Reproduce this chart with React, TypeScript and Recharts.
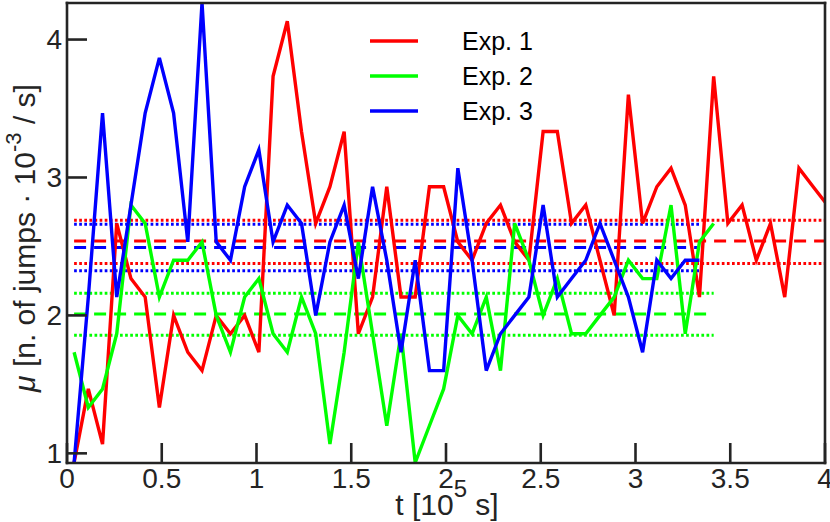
import React from "react";
import { LineChart, Line, XAxis, YAxis, Legend } from "recharts";

// one bin = 7500 s = 0.075 x 10^5 s, points sit in the middle of each bin
const BIN = 0.075;

const exp1 = [
  0.933, 1.467, 1.067, 2.667, 2.267, 2.133, 1.333, 2.0, 1.733, 1.6,
  2.0, 1.867, 2.0, 1.733, 3.733, 4.133, 3.333, 2.667, 2.933, 3.333,
  1.867, 2.133, 2.933, 2.133, 2.133, 2.933, 2.933, 2.533, 2.4, 2.667,
  2.8, 2.533, 2.4, 3.333, 3.333, 2.667, 2.8, 2.4, 2.0, 3.6,
  2.667, 2.933, 3.067, 2.8, 2.133, 3.733, 2.667, 2.8, 2.4, 2.667,
  2.133, 3.067, 2.933, 2.8,
];

const exp2 = [
  1.733, 1.333, 1.467, 1.867, 2.8, 2.667, 2.133, 2.4, 2.4, 2.533,
  2.0, 1.733, 2.133, 2.267, 1.867, 1.733, 2.133, 1.867, 1.067, 1.733,
  2.533, 1.867, 1.2, 1.867, 0.933, 1.2, 1.467, 2.0, 1.867, 2.133,
  1.6, 2.667, 2.4, 2.0, 2.267, 1.867, 1.867, 2.0, 2.133, 2.4,
  2.267, 2.267, 2.8, 1.867, 2.533, 2.667,
];

const exp3 = [
  0.933, 2.133, 3.467, 2.133, 2.8, 3.467, 3.867, 3.467, 2.533, 4.267,
  2.533, 2.4, 2.933, 3.2, 2.533, 2.8, 2.667, 2.0, 2.533, 2.8,
  2.267, 2.933, 2.4, 1.733, 2.4, 1.6, 1.6, 3.067, 2.4, 1.6,
  1.867, 2.0, 2.133, 2.8, 2.133, 2.267, 2.4, 2.667, 2.4, 2.133,
  1.733, 2.4, 2.267, 2.4, 2.4,
];

// [lower, mean, upper] as drawn by the dotted / dashed lines
const exp1Stats = [2.377, 2.54, 2.69];
const exp2Stats = [1.857, 2.01, 2.16];
const exp3Stats = [2.324, 2.493, 2.661];

const xTicks = [0, 0.5, 1, 1.5, 2, 2.5, 3, 3.5, 4];
const yTicks = [1, 2, 3, 4];

const series = [
  { name: "Exp. 1", color: "#ff0000", values: exp1, stats: exp1Stats },
  { name: "Exp. 2", color: "#00ff00", values: exp2, stats: exp2Stats },
  { name: "Exp. 3", color: "#0000ff", values: exp3, stats: exp3Stats },
];

const FONT = "'Liberation Sans', Arial, Helvetica, sans-serif";
const FRAME = "#242424";

const toPoints = (values: number[]) =>
  values.map((v, i) => ({ t: (i + 0.5) * BIN, mu: v }));

const span = (values: number[], y: number) => [
  { t: 0.5 * BIN, mu: y },
  { t: (values.length - 0.5) * BIN, mu: y },
];

const XLabel = () => (
  <text x={447} y={515} textAnchor="middle" fontFamily={FONT} fontSize={30} fill={FRAME}>
    <tspan>t [10</tspan>
    <tspan dy={-18} fontSize={24}>5</tspan>
    <tspan dy={18}> s]</tspan>
  </text>
);

const YLabel = () => (
  <text
    x={0}
    y={0}
    transform="translate(35,238) rotate(-90)"
    textAnchor="middle"
    fontFamily={FONT}
    fontSize={30}
    fill={FRAME}
  >
    <tspan fontStyle="italic">μ</tspan>
    <tspan> [n. of jumps · 10</tspan>
    <tspan dy={-14} fontSize={22}>-3</tspan>
    <tspan dy={14}> / s]</tspan>
  </text>
);

const LegendBox = () => (
  <svg width={200} height={110}>
    {series.map((s, i) => (
      <g key={s.name}>
        <line x1={10} x2={58} y1={21 + i * 35} y2={21 + i * 35} stroke={s.color} strokeWidth={3.4} />
        <text x={102} y={30 + i * 35} fontFamily={FONT} fontSize={25} fill="#000">
          {s.name}
        </text>
      </g>
    ))}
  </svg>
);

const axisStroke = { stroke: FRAME, strokeWidth: 2.6, strokeLinecap: "square" as const };
const tickStroke = { stroke: FRAME, strokeWidth: 2.6 };
const tickFont = { fontFamily: FONT, fontSize: 28, fill: FRAME };

export default function App() {
  return (
    <div style={{ position: "absolute", left: 0, top: 0, background: "#fff" }}>
      <LineChart width={830} height={522} margin={{ top: 0, right: 0, bottom: 0, left: 0 }}>
        <XAxis
          dataKey="t"
          type="number"
          domain={[0, 4]}
          allowDataOverflow
          ticks={xTicks}
          interval={0}
          height={59}
          tickSize={-20}
          tickMargin={25}
          axisLine={axisStroke}
          tickLine={tickStroke}
          tick={tickFont}
          label={<XLabel />}
        />
        <XAxis
          xAxisId="top"
          orientation="top"
          dataKey="t"
          type="number"
          domain={[0, 4]}
          allowDataOverflow
          ticks={xTicks}
          interval={0}
          height={3}
          tickSize={-20}
          axisLine={axisStroke}
          tickLine={tickStroke}
          tick={false}
        />
        <YAxis
          type="number"
          domain={[0.93, 4.265]}
          allowDataOverflow
          ticks={yTicks}
          interval={0}
          width={67}
          tickSize={-20}
          tickMargin={25}
          axisLine={axisStroke}
          tickLine={tickStroke}
          tick={tickFont}
          label={<YLabel />}
        />
        <YAxis
          yAxisId="right"
          orientation="right"
          type="number"
          domain={[0.93, 4.265]}
          allowDataOverflow
          ticks={yTicks}
          interval={0}
          width={5}
          tickSize={-20}
          axisLine={axisStroke}
          tickLine={tickStroke}
          tick={false}
        />
        <Legend
          layout="vertical"
          align="center"
          verticalAlign="middle"
          wrapperStyle={{ left: 360, top: 20, width: 200 }}
          content={() => <LegendBox />}
        />
        {series.map((s) =>
          s.stats.map((y, k) => (
            <Line
              key={`${s.name}-stat-${k}`}
              data={span(s.values, y)}
              dataKey="mu"
              type="linear"
              stroke={s.color}
              strokeWidth={3}
              strokeDasharray={k === 1 ? "12 8" : "2.7 2.4"}
              dot={false}
              activeDot={false}
              legendType="none"
              isAnimationActive={false}
            />
          ))
        )}
        {series.map((s) => (
          <Line
            key={s.name}
            name={s.name}
            data={toPoints(s.values)}
            dataKey="mu"
            type="linear"
            stroke={s.color}
            strokeWidth={3.4}
            strokeLinejoin="miter"
            dot={false}
            activeDot={false}
            isAnimationActive={false}
          />
        ))}
      </LineChart>
    </div>
  );
}
